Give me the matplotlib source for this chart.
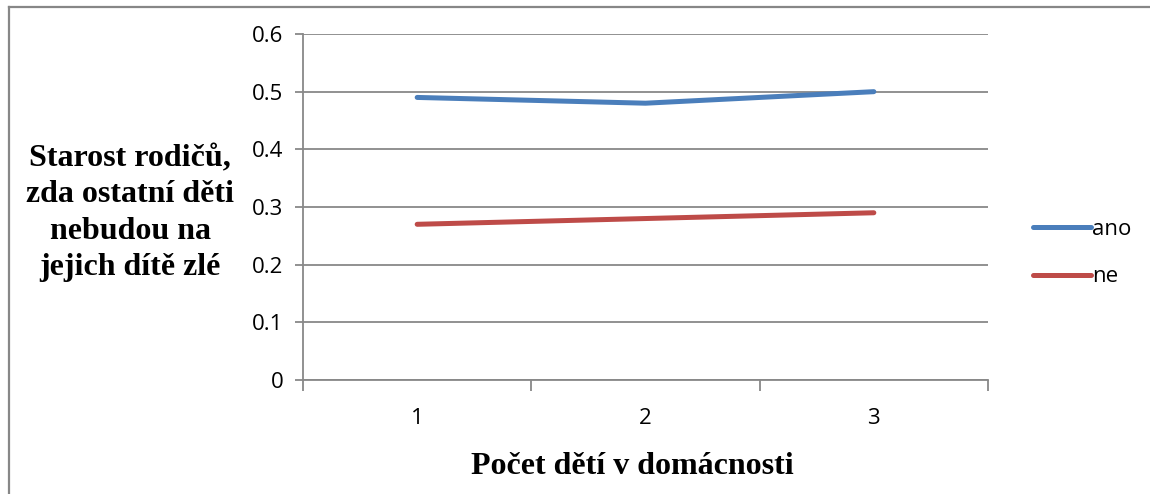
import matplotlib
matplotlib.use("Agg")
import matplotlib.pyplot as plt
from matplotlib.lines import Line2D

categories = ["1", "2", "3"]
ano = [0.49, 0.48, 0.50]
ne = [0.27, 0.28, 0.29]
series_names = ["ano", "ne"]
yticks = [0, 0.1, 0.2, 0.3, 0.4, 0.5, 0.6]
ytick_labels = ["0", "0.1", "0.2", "0.3", "0.4", "0.5", "0.6"]
xlabel = "Počet dětí v domácnosti"
ylabel = "Starost rodičů,\nzda ostatní děti\nnebudou na\njejich dítě zlé"

W, H = 1150, 494
fig = plt.figure(figsize=(W / 100, H / 100), dpi=100)
fig.patch.set_facecolor("white")

# outer frame (left and top edges visible)
fig.add_artist(Line2D([8.5 / W, 8.5 / W], [0, 1 - 7.5 / H], transform=fig.transFigure,
                      color="#878787", lw=1.6))
fig.add_artist(Line2D([8.5 / W, 1], [1 - 7.5 / H, 1 - 7.5 / H], transform=fig.transFigure,
                      color="#878787", lw=1.6))

left, right, top, bottom = 303, 988, 34, 380
ax = fig.add_axes([left / W, 1 - bottom / H, (right - left) / W, (bottom - top) / H])

x = list(range(1, len(categories) + 1))
blue = "#4A7EBB"
red = "#BE4B48"
grid = "#888888"

ax.plot(x, ano, color=blue, lw=3.6, solid_capstyle="round", label=series_names[0], zorder=3)
ax.plot(x, ne, color=red, lw=3.6, solid_capstyle="round", label=series_names[1], zorder=3)

ax.set_xlim(0.5, len(categories) + 0.5)
ax.set_ylim(0, 0.6)
ax.set_yticks(yticks)
ax.set_yticklabels(ytick_labels)
ax.set_xticks(x)
ax.set_xticklabels(categories)
ax.set_xticks([0.5 + i for i in range(len(categories) + 1)], minor=True)

for s in ["top", "right"]:
    ax.spines[s].set_visible(False)
for s in ["left", "bottom"]:
    ax.spines[s].set_color(grid)
    ax.spines[s].set_linewidth(1.3)

ax.yaxis.grid(True, color=grid, lw=1.3)
ax.set_axisbelow(True)

ax.tick_params(axis="y", direction="out", length=6, width=1.3, color=grid,
               labelsize=16, pad=8, labelcolor="black")
ax.tick_params(axis="x", which="major", length=0, labelsize=16, pad=20)
ax.tick_params(axis="x", which="minor", direction="out", length=8, width=1.3, color=grid)
for lab in ax.get_xticklabels() + ax.get_yticklabels():
    lab.set_fontfamily("Open Sans")

fig.text((470 + 795) / 2 / W, 1 - 466 / H, xlabel, ha="center", va="center",
         fontfamily="Liberation Serif", fontweight="bold", fontsize=23)
fig.text(130 / W, 1 - 213 / H, ylabel, ha="center", va="center",
         fontfamily="Liberation Serif", fontweight="bold", fontsize=23,
         linespacing=1.32, multialignment="center")

leg = fig.legend(handles=ax.get_lines(), labels=series_names, loc="center left",
                 bbox_to_anchor=(1013 / W, 1 - 253 / H), frameon=False,
                 prop={"family": "Open Sans", "size": 16}, handlelength=2.6,
                 handletextpad=0.05, labelspacing=1.2)
for h in leg.get_lines():
    h.set_linewidth(3.6)

fig.savefig("out.png", dpi=100)
